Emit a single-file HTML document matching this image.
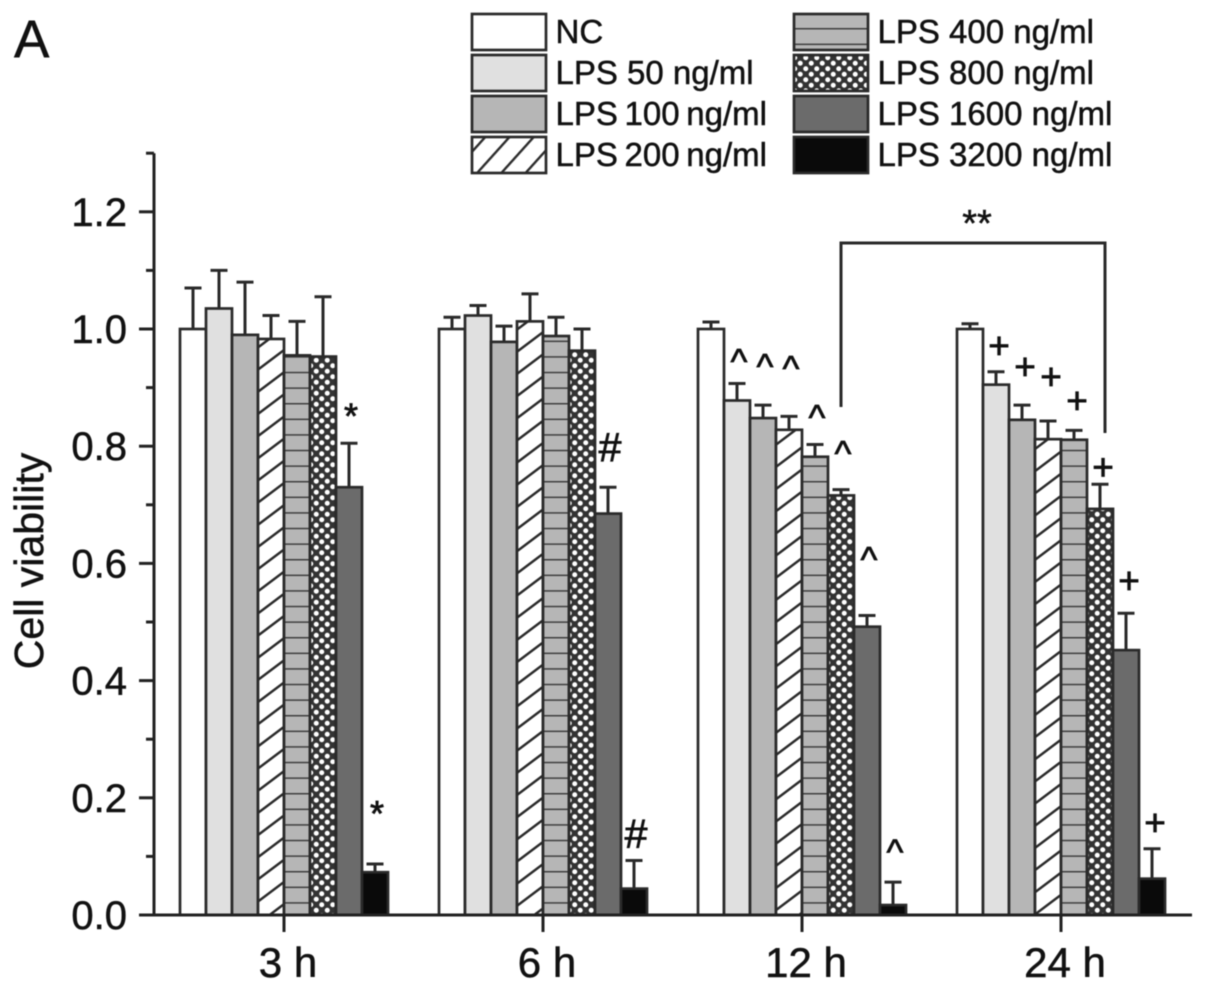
<!DOCTYPE html>
<html lang="en">
<head>
<meta charset="utf-8">
<title>Cell viability chart</title>
<style>
  html, body { margin: 0; padding: 0; background: #fff; }
  #chart { display: block; width: 1205px; height: 991px; filter: blur(0.6px); font-family: "Liberation Sans", sans-serif; fill: #111; }
  #chart text { stroke: #111; stroke-width: 0.5px; }
  #notes text { stroke-width: 0.8px; }
</style>
</head>
<body>
<svg id="chart" xmlns="http://www.w3.org/2000/svg" width="1205" height="991" viewBox="0 0 1205 991">
  <defs>
    <pattern id="hatch" patternUnits="userSpaceOnUse" width="30" height="17.7" patternTransform="translate(258 900) rotate(-37)">
      <rect width="30" height="17.7" fill="#fff"/>
      <line x1="0" y1="1.2" x2="30" y2="1.2" stroke="#2a2a2a" stroke-width="2.4"/>
    </pattern>
    <pattern id="hatch-legend" patternUnits="userSpaceOnUse" width="30" height="18" patternTransform="translate(472 150) rotate(-48)">
      <rect width="30" height="18" fill="#fff"/>
      <line x1="0" y1="1.2" x2="30" y2="1.2" stroke="#2a2a2a" stroke-width="2.4"/>
    </pattern>
    <pattern id="stripes" patternUnits="userSpaceOnUse" width="30" height="15.6" patternTransform="translate(0 793)">
      <rect width="30" height="15.6" fill="#b6b6b6"/>
      <line x1="0" y1="0" x2="30" y2="0" stroke="#3c3c3c" stroke-width="3"/>
    </pattern>
    <pattern id="stripes-legend" patternUnits="userSpaceOnUse" width="30" height="15.6" patternTransform="translate(0 28)">
      <rect width="30" height="15.6" fill="#b6b6b6"/>
      <line x1="0" y1="0" x2="30" y2="0" stroke="#3c3c3c" stroke-width="3"/>
    </pattern>
    <pattern id="dots" patternUnits="userSpaceOnUse" width="11" height="11">
      <rect width="11" height="11" fill="#333"/>
      <circle cx="2.75" cy="2.75" r="2.5" fill="#fff"/>
      <circle cx="8.25" cy="8.25" r="2.5" fill="#fff"/>
    </pattern>
  </defs>
  <text x="14" y="57" font-size="53">A</text>
  <text transform="translate(43 561) rotate(-90)" text-anchor="middle" font-size="41">Cell viability</text>
  <g id="bars"></g>
  <g id="axes"></g>
  <g id="notes"></g>
  <path d="M841 407V243H1105V433" fill="none" stroke="#2a2a2a" stroke-width="3"/>
  <text x="977" y="236" text-anchor="middle" font-size="38">**</text>
  <g id="legend"></g>
</svg>
<script>
const categories = ['3 h', '6 h', '12 h', '24 h'];
const seriesNames = ['NC', 'LPS 50 ng/ml', 'LPS 100 ng/ml', 'LPS 200 ng/ml', 'LPS 400 ng/ml', 'LPS 800 ng/ml', 'LPS 1600 ng/ml', 'LPS 3200 ng/ml'];
const values3h = [1.0, 1.035, 0.99, 0.983, 0.955, 0.953, 0.73, 0.073];
const values6h = [1.0, 1.023, 0.978, 1.013, 0.988, 0.963, 0.685, 0.045];
const values12h = [1.0, 0.878, 0.848, 0.828, 0.782, 0.716, 0.492, 0.017];
const values24h = [1.0, 0.905, 0.845, 0.812, 0.811, 0.693, 0.452, 0.062];
const errorTops3h = [1.07, 1.10, 1.08, 1.023, 1.013, 1.055, 0.805, 0.087];
const errorTops6h = [1.02, 1.04, 1.005, 1.06, 1.02, 1.0, 0.73, 0.093];
const errorTops12h = [1.012, 0.907, 0.87, 0.851, 0.803, 0.726, 0.511, 0.056];
const errorTops24h = [1.009, 0.927, 0.87, 0.843, 0.827, 0.735, 0.515, 0.113];
const yMajorTicks = ['0.0', '0.2', '0.4', '0.6', '0.8', '1.0', '1.2'];
const yMinorTicks = [0.1, 0.3, 0.5, 0.7, 0.9, 1.1, 1.3];
const noteSeries3h = [6, 7];
const noteLevels3h = [0.86, 0.181];
const noteSeries6h = [6, 7];
const noteLevels6h = [0.799, 0.14];
const noteSeries12h = [1, 2, 3, 4, 5, 6, 7];
const noteLevels12h = [0.956, 0.947, 0.944, 0.86, 0.799, 0.618, 0.119];
const noteSeries24h = [1, 2, 3, 4, 5, 6, 7];
const noteLevels24h = [0.971, 0.935, 0.918, 0.877, 0.764, 0.57, 0.157];
const noteSymbols = ['*', '#', '^', '+'];

const NS = 'http://www.w3.org/2000/svg';
const allValues = [values3h, values6h, values12h, values24h];
const allTops = [errorTops3h, errorTops6h, errorTops12h, errorTops24h];
const allNoteSeries = [noteSeries3h, noteSeries6h, noteSeries12h, noteSeries24h];
const allNoteLevels = [noteLevels3h, noteLevels6h, noteLevels12h, noteLevels24h];
const fills = ['#ffffff', '#e0e0e0', '#b6b6b6', 'url(#hatch)', 'url(#stripes)', 'url(#dots)', '#6b6b6b', '#0a0a0a'];
const legendFills = ['#ffffff', '#e0e0e0', '#b6b6b6', 'url(#hatch-legend)', 'url(#stripes-legend)', 'url(#dots)', '#6b6b6b', '#0a0a0a'];
const barWidth = 26;
const groupStep = 259;
const firstLeft = 180;
const baseY = 915;
const unitPx = 586;

function yScale(v) { return baseY - v * unitPx; }
function groupLeft(g) { return firstLeft + g * groupStep; }
function barLeft(g, s) { return groupLeft(g) + s * barWidth; }
function groupCenter(g) { return groupLeft(g) + 4 * barWidth; }
function make(tag, attrs, parent) {
  const el = document.createElementNS(NS, tag);
  for (const k in attrs) el.setAttribute(k, attrs[k]);
  parent.appendChild(el);
  return el;
}
function slug(s) { return s.toLowerCase().replace(/[^a-z0-9]+/g, '-').replace(/-$/, ''); }

const barsLayer = document.getElementById('bars');
const axesLayer = document.getElementById('axes');
const notesLayer = document.getElementById('notes');
const legendLayer = document.getElementById('legend');

categories.forEach(function (cat, g) {
  allValues[g].forEach(function (v, s) {
    const x = barLeft(g, s);
    const cx = x + barWidth / 2;
    const top = allTops[g][s];
    const stem = make('path', { d: 'M' + cx + ' ' + yScale(v) + 'V' + yScale(top) + 'M' + (cx - 8.5) + ' ' + yScale(top) + 'H' + (cx + 8.5), fill: 'none', stroke: '#2a2a2a', 'stroke-width': 3 }, barsLayer);
    
    
    const bar = make('rect', { x: x, y: yScale(v), width: barWidth, height: baseY - yScale(v), fill: fills[s], stroke: '#2a2a2a', 'stroke-width': 2.7 }, barsLayer);
    
    
  });
  const tick = make('line', { x1: groupCenter(g), x2: groupCenter(g), y1: baseY, y2: 932, stroke: '#222', 'stroke-width': 3 }, axesLayer);
  
  
  const label = make('text', { x: groupCenter(g) + 4, y: 977, 'text-anchor': 'middle', 'font-size': 42 }, axesLayer);
  label.textContent = cat;
  
  

  allNoteSeries[g].forEach(function (s, i) {
    const sym = noteSymbols[g];
    const size = sym === '*' ? 36 : sym === '#' ? 41 : sym === '^' ? 36 : 37;
    const shift = sym === '*' ? 0.48 : sym === '#' ? 0.35 : sym === '^' ? 0.53 : 0.34;
    const note = make('text', { x: barLeft(g, s) + barWidth / 2 + (sym === '+' ? 3 : 2), y: yScale(allNoteLevels[g][i]) + size * shift, 'text-anchor': 'middle', 'font-size': size }, notesLayer);
    note.textContent = sym;
    
    
  });
});

const yAxis = make('line', { x1: 154, x2: 154, y1: yScale(1.3), y2: baseY + 1.5, stroke: '#222', 'stroke-width': 3 }, axesLayer);


const xAxis = make('line', { x1: 139, x2: 1192, y1: baseY, y2: baseY, stroke: '#222', 'stroke-width': 3 }, axesLayer);



yMajorTicks.forEach(function (t) {
  const y = yScale(parseFloat(t));
  const tick = make('line', { x1: 139, x2: 154, y1: y, y2: y, stroke: '#222', 'stroke-width': 3 }, axesLayer);
  
  
  const label = make('text', { x: 127, y: y + 14, 'text-anchor': 'end', 'font-size': 40 }, axesLayer);
  label.textContent = t;
  
  
});
yMinorTicks.forEach(function (t) {
  const y = yScale(t);
  const tick = make('line', { x1: 146, x2: 154, y1: y, y2: y, stroke: '#222', 'stroke-width': 3 }, axesLayer);
  
  
});

seriesNames.forEach(function (name, s) {
  const col = s < 4 ? 0 : 1;
  const row = s % 4;
  const x = col === 0 ? 472 : 794;
  const y = 14 + row * 41;
  const swatch = make('rect', { x: x, y: y, width: 74, height: 36, fill: legendFills[s], stroke: '#2a2a2a', 'stroke-width': 2.7 }, legendLayer);
  
  
  const label = make('text', { x: x + 83.5, y: y + 29, 'font-size': 33 }, legendLayer);
  if (s === 2 || s === 3) {
    label.style.wordSpacing = '-2.5px';
  }
  label.textContent = name;
  
  
});
</script>
</body>
</html>
